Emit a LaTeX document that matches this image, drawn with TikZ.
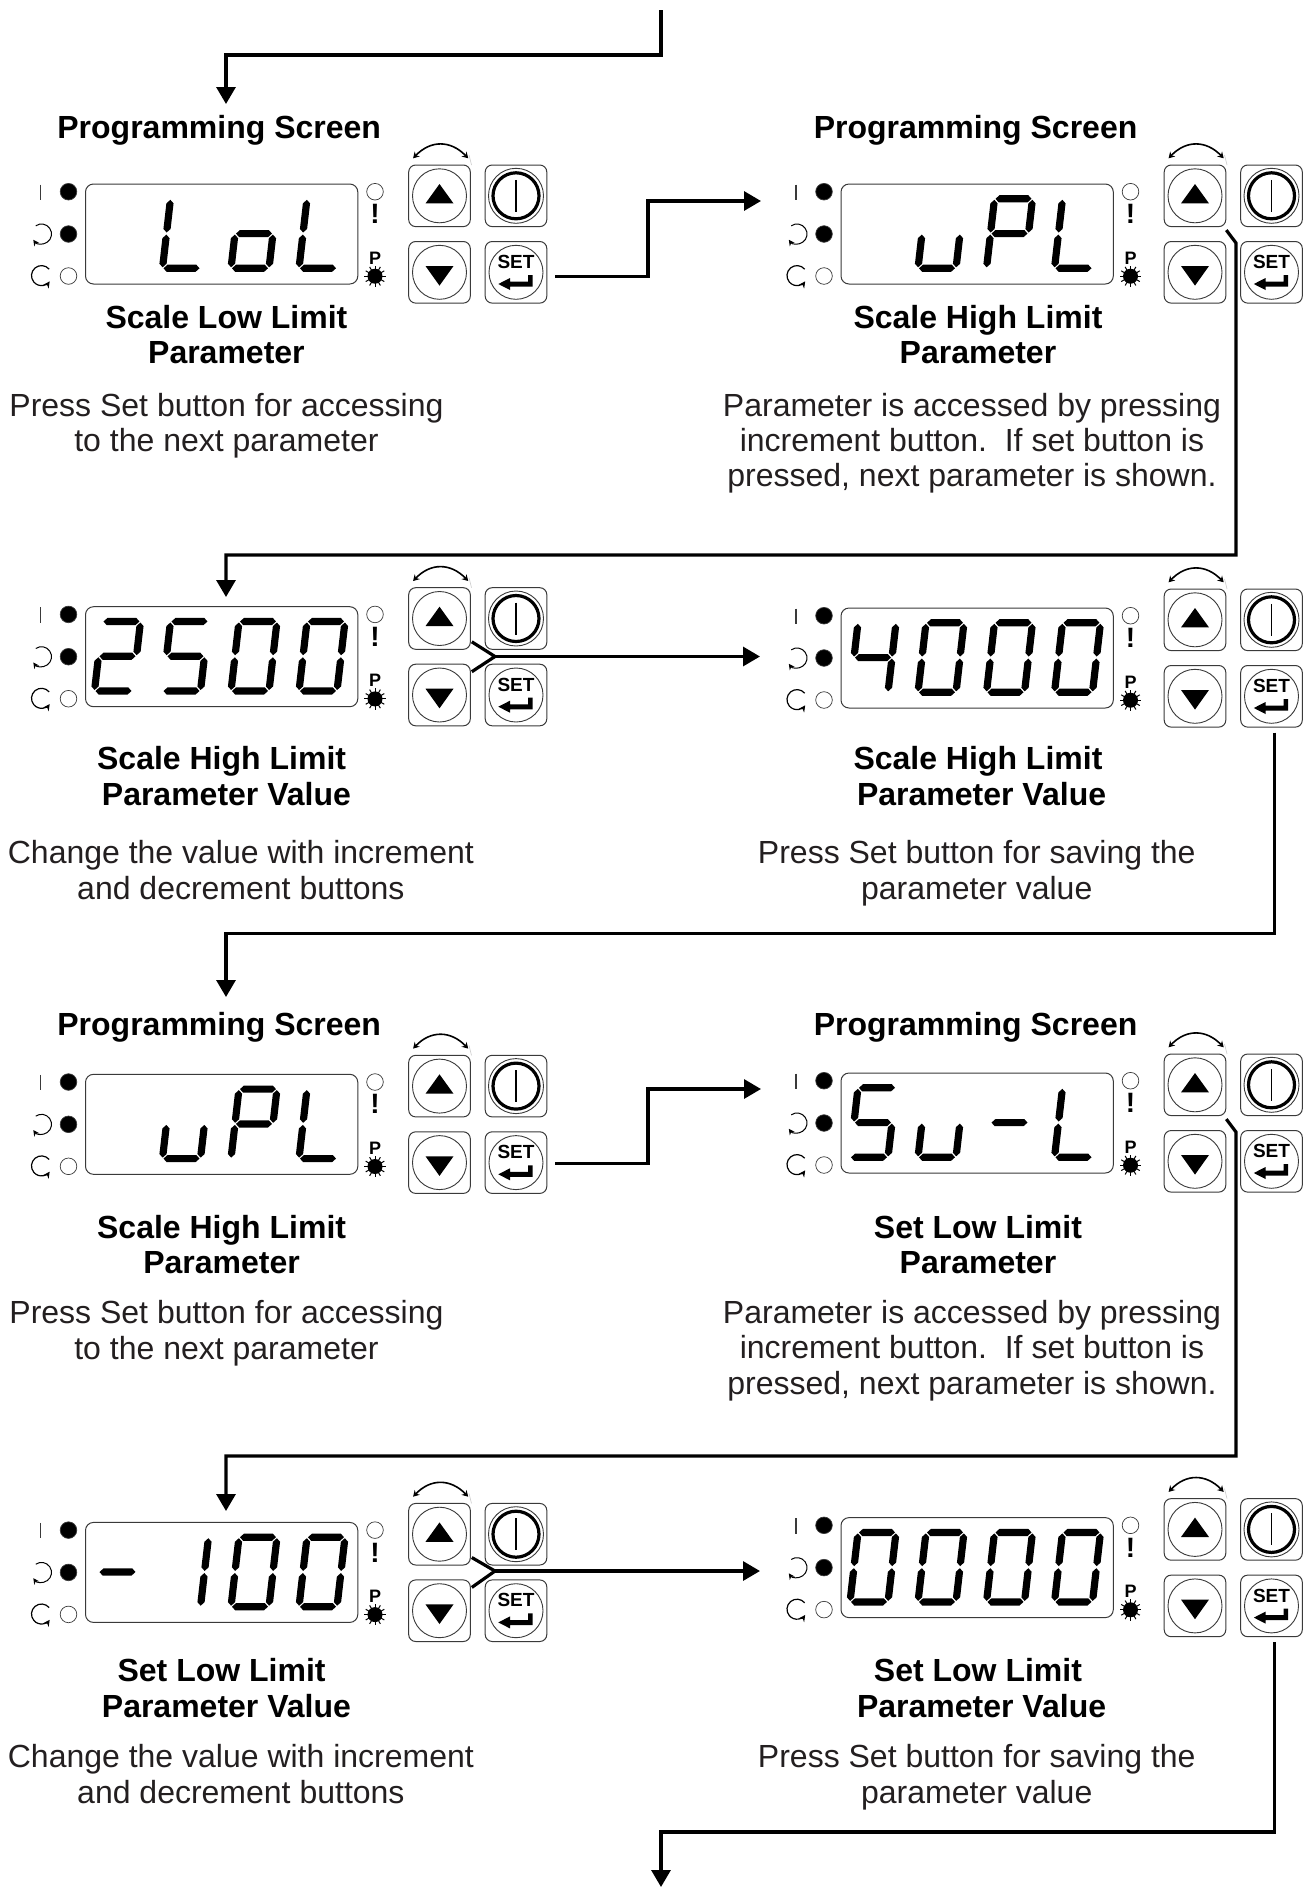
\documentclass[tikz,border=0pt]{standalone}
\usepackage{fontspec}
\setmainfont{Liberation Sans}
\usetikzlibrary{arrows.meta}
\definecolor{ink}{HTML}{231F20}
\definecolor{edgeg}{HTML}{3A3A3A}
\newcounter{tl}
\tikzset{
 conn/.style={line width=3.2pt,black,line join=miter},
 tip/.style={-{Triangle[length=17pt,width=19pt]}},
 btn/.style={draw=edgeg,line width=1pt,rounded corners=7pt,minimum size=61.6pt,inner sep=0pt},
 hd/.style={font=\fontsize{32}{32}\selectfont\bfseries,text=black,inner sep=0pt,text height=24pt,text depth=7pt},
 bd/.style={font=\fontsize{32}{32}\selectfont,text=ink,inner sep=0pt,text height=24pt,text depth=7pt},
 led/.style={circle,minimum size=16.6pt,inner sep=0pt,draw=edgeg,line width=0.7pt},
 ledon/.style={led,fill=black},
 sym/.style={inner sep=0pt,text=black},
}
\newcommand\hs[3]{\fill (#1,#3)--(#1+3.6,#3-3.6)--(#2-3.6,#3-3.6)--(#2,#3)--(#2-3.6,#3+3.6)--(#1+3.6,#3+3.6)--cycle;}
\newcommand\vs[3]{\fill (#1,#2)--(#1+3.6,#2+3.6)--(#1+3.6,#3-3.6)--(#1,#3)--(#1-3.6,#3-3.6)--(#1-3.6,#2+3.6)--cycle;}
\newcommand\segA{\hs{1}{37}{-69.5}}
\newcommand\segB{\vs{38}{-68.5}{-35.8}}
\newcommand\segC{\vs{38}{-33.7}{-1}}
\newcommand\segD{\hs{1}{37}{0}}
\newcommand\segE{\vs{0}{-33.7}{-1}}
\newcommand\segF{\vs{0}{-68.5}{-35.8}}
\newcommand\segG{\hs{1}{37}{-34.7}}
\newcommand\glyL{\segD\segE\segF}
\newcommand\glyo{\segC\segD\segE\segG}
\newcommand\glyu{\segC\segD\segE}
\newcommand\glyP{\segA\segB\segE\segF\segG}
\newcommand\glyTwo{\segA\segB\segG\segE\segD}
\newcommand\glyFive{\segA\segF\segG\segC\segD}
\newcommand\glyZero{\segA\segB\segC\segD\segE\segF}
\newcommand\glyFour{\segF\segG\segB\segC}
\newcommand\glyOne{\segB\segC}
\newcommand\glyDash{\segG}
\newcommand\digitat[2]{\begin{scope}[shift={(#1,84.3)},xslant=0.115]#2\end{scope}}
\newcommand\slotA[1]{\digitat{9}{#1}}
\newcommand\slotB[1]{\digitat{77}{#1}}
\newcommand\slotC[1]{\digitat{145.5}{#1}}
\newcommand\slotD[1]{\digitat{213.5}{#1}}
% #1 name, #2 x, #3 y, #4 digits
\newcommand\panel[4]{%
\begin{scope}[shift={(#2,#3)}]
 \draw[draw=edgeg,line width=1pt,rounded corners=8pt] (0,0) rectangle (272.3,100);
 \node[ledon] (#1ledA) at (-17,7.7) {};
 \node[ledon] (#1ledB) at (-17,50) {};
 \node[led] (#1ledC) at (-17,92) {};
 \node[led] (#1ledD) at (289.5,7.7) {};
 \draw[edgeg,line width=1.2pt] (-45,0.5) -- (-45,16);
 \draw[black,line width=1pt,-{Stealth[length=6pt,width=6pt]}] ([shift={(125:10pt)}]-44,50) arc[start angle=125,end angle=-145,radius=10pt];
 \draw[black,line width=1.2pt,-{Stealth[length=6.5pt,width=6.5pt]}] ([shift={(40:10pt)}]-44,91.6) arc[start angle=40,end angle=325,radius=10pt];
 \node[sym,font=\fontsize{28}{28}\selectfont\bfseries] (#1bang) at (289.5,30) {!};
 \node[sym,font=\fontsize{18}{18}\selectfont\bfseries] (#1pee) at (289.5,74) {P};
 \fill (289.5,92.2) circle[radius=7.5pt];
 \foreach \a in {0,30,...,330} \draw[line width=1pt] ([shift={(\a:6pt)}]289.5,92.2) -- ([shift={(\a:10.7pt)}]289.5,92.2);
 \node[btn] (#1up) at (354,11.8) {};
 \node[btn] (#1pw) at (430.5,11.8) {};
 \node[btn] (#1dn) at (354,88.3) {};
 \node[btn] (#1set) at (430.5,88.3) {};
 \draw[edgeg,line width=0.9pt] (354,11.8) circle[radius=27pt] (354,88.3) circle[radius=27pt] (430.5,11.8) circle[radius=27.5pt] (430.5,88.3) circle[radius=27pt];
 \fill (340,19.4) -- (368,19.4) -- (354,0) -- cycle;
 \fill (340,82) -- (368,82) -- (354,101.6) -- cycle;
 \draw[line width=3.2pt] (430.5,11.8) circle[radius=23pt];
 \draw[line width=1.9pt] (430.5,-4.2) -- (430.5,27.8);
 \node[sym,font=\fontsize{19}{19}\selectfont\bfseries] (#1settx) at (430.5,78) {SET};
 \fill (447,91) -- (447,102.6) -- (424.5,102.6) -- (424.5,106) -- (412.8,100) -- (424.5,94) -- (424.5,97.6) -- (442.7,97.6) -- (442.7,91) -- cycle;
 \draw[line width=1.6pt,{Stealth[length=6pt,width=7pt]}-{Stealth[length=6pt,width=7pt]}] (327.6,-25.7) .. controls (345,-44) and (365,-44) .. (382.7,-25.7);
 \draw[gray!40,line width=0.6pt] (383.5,-29) -- (386,-19);
 #4
\end{scope}}
\newcommand\tl[4]{\stepcounter{tl}\node[#1] (t\thetl) at (#2*1.2044,#3*1.2044+2.5) {#4};}
\begin{document}
\begin{tikzpicture}[x=1pt,y=-1pt]
\useasboundingbox (0,0) rectangle (1308,1888);
\fill[white] (0,0) rectangle (1308,1888);
\panel{pa}{85.5}{184}{\slotB{\glyL}\slotC{\glyo}\slotD{\glyL}}
\panel{pb}{841}{184}{\slotB{\glyu}\slotC{\glyP}\slotD{\glyL}}
\panel{pc}{85.5}{606.7}{\slotA{\glyTwo}\slotB{\glyFive}\slotC{\glyZero}\slotD{\glyZero}}
\panel{pd}{841}{608}{\slotA{\glyFour}\slotB{\glyZero}\slotC{\glyZero}\slotD{\glyZero}}
\panel{pe}{85.5}{1074.3}{\slotB{\glyu}\slotC{\glyP}\slotD{\glyL}}
\panel{pf}{841}{1073}{\slotA{\glyFive}\slotB{\glyu}\slotC{\glyDash}\slotD{\glyL}}
\panel{pg}{85.5}{1522.4}{\slotA{\glyDash}\slotB{\glyOne}\slotC{\glyZero}\slotD{\glyZero}}
\panel{ph}{841}{1517.6}{\slotA{\glyZero}\slotB{\glyZero}\slotC{\glyZero}\slotD{\glyZero}}
% text
\tl{hd}{182}{105.5}{Programming Screen}
\tl{hd}{810}{105.5}{Programming Screen}
\tl{hd}{188}{264}{Scale Low Limit}
\tl{hd}{188}{293}{Parameter}
\tl{bd}{188}{337}{Press Set button for accessing}
\tl{bd}{188}{366}{to the next parameter}
\tl{hd}{812}{264}{Scale High Limit}
\tl{hd}{812}{293}{Parameter}
\tl{bd}{807}{337}{Parameter is accessed by pressing}
\tl{bd}{807}{366}{increment button.\ \ If set button is}
\tl{bd}{807}{395}{pressed, next parameter is shown.}
\tl{hd}{184}{630}{Scale High Limit}
\tl{hd}{188}{660}{Parameter Value}
\tl{bd}{200}{708}{Change the value with increment}
\tl{bd}{200}{738}{and decrement buttons}
\tl{hd}{812}{630}{Scale High Limit}
\tl{hd}{815}{660}{Parameter Value}
\tl{bd}{811}{708}{Press Set button for saving the}
\tl{bd}{811}{738}{parameter value}
\tl{hd}{182}{850.5}{Programming Screen}
\tl{hd}{810}{850.5}{Programming Screen}
\tl{hd}{184}{1019}{Scale High Limit}
\tl{hd}{184}{1048}{Parameter}
\tl{bd}{188}{1090}{Press Set button for accessing}
\tl{bd}{188}{1120}{to the next parameter}
\tl{hd}{812}{1019}{Set Low Limit}
\tl{hd}{812}{1048}{Parameter}
\tl{bd}{807}{1090}{Parameter is accessed by pressing}
\tl{bd}{807}{1119}{increment button.\ \ If set button is}
\tl{bd}{807}{1149}{pressed, next parameter is shown.}
\tl{hd}{184}{1387}{Set Low Limit}
\tl{hd}{188}{1417}{Parameter Value}
\tl{bd}{200}{1458}{Change the value with increment}
\tl{bd}{200}{1488}{and decrement buttons}
\tl{hd}{812}{1387}{Set Low Limit}
\tl{hd}{815}{1417}{Parameter Value}
\tl{bd}{811}{1458}{Press Set button for saving the}
\tl{bd}{811}{1488}{parameter value}
% connector ends
\coordinate (topstart) at (661,10);
\coordinate (endbottom) at (661,1887);
\coordinate (inpa) at (226,104);
\coordinate (inpb) at (761,201);
\coordinate (inpc) at (226,597);
\coordinate (inpd) at (760,656.5);
\coordinate (inpe) at (226,997);
\coordinate (inpf) at (761,1089);
\coordinate (inpg) at (226,1511);
\coordinate (inph) at (760,1571);
% connectors
\draw[conn,tip] (topstart) -- (661,55) -- (226,55) -- (inpa);
\draw[conn,tip] ([xshift=8pt,yshift=-4pt]paset.east) -| (648,201) -- (inpb);
\draw[conn,tip] ([xshift=0pt,yshift=-3pt]pbup.south east) -- (1236,243) -- (1236,555) -- (226,555) -- (inpc);
\draw[conn] ([xshift=1pt,yshift=8pt]pcup.south east) -- (495,656.5) -- ([xshift=1pt,yshift=-8pt]pcdn.north east);
\draw[conn,tip] (495,656.5) -- (inpd);
\draw[conn,tip] ([xshift=3pt,yshift=-5pt]pdset.south) -- (1274.5,933.5) -- (226,933.5) -- (inpe);
\draw[conn,tip] ([xshift=8pt,yshift=-1pt]peset.east) -| (648,1089) -- (inpf);
\draw[conn,tip] ([xshift=0pt,yshift=-3pt]pfup.south east) -- (1236,1132) -- (1236,1456) -- (226,1456) -- (inpg);
\draw[conn] ([xshift=1pt,yshift=8pt]pgup.south east) -- (495,1571) -- ([xshift=1pt,yshift=-8pt]pgdn.north east);
\draw[conn,tip] (495,1571) -- (inph);
\draw[conn,tip] ([xshift=3pt,yshift=-5pt]phset.south) -- (1274.5,1832) -- (661,1832) -- (endbottom);
\end{tikzpicture}
\end{document}
